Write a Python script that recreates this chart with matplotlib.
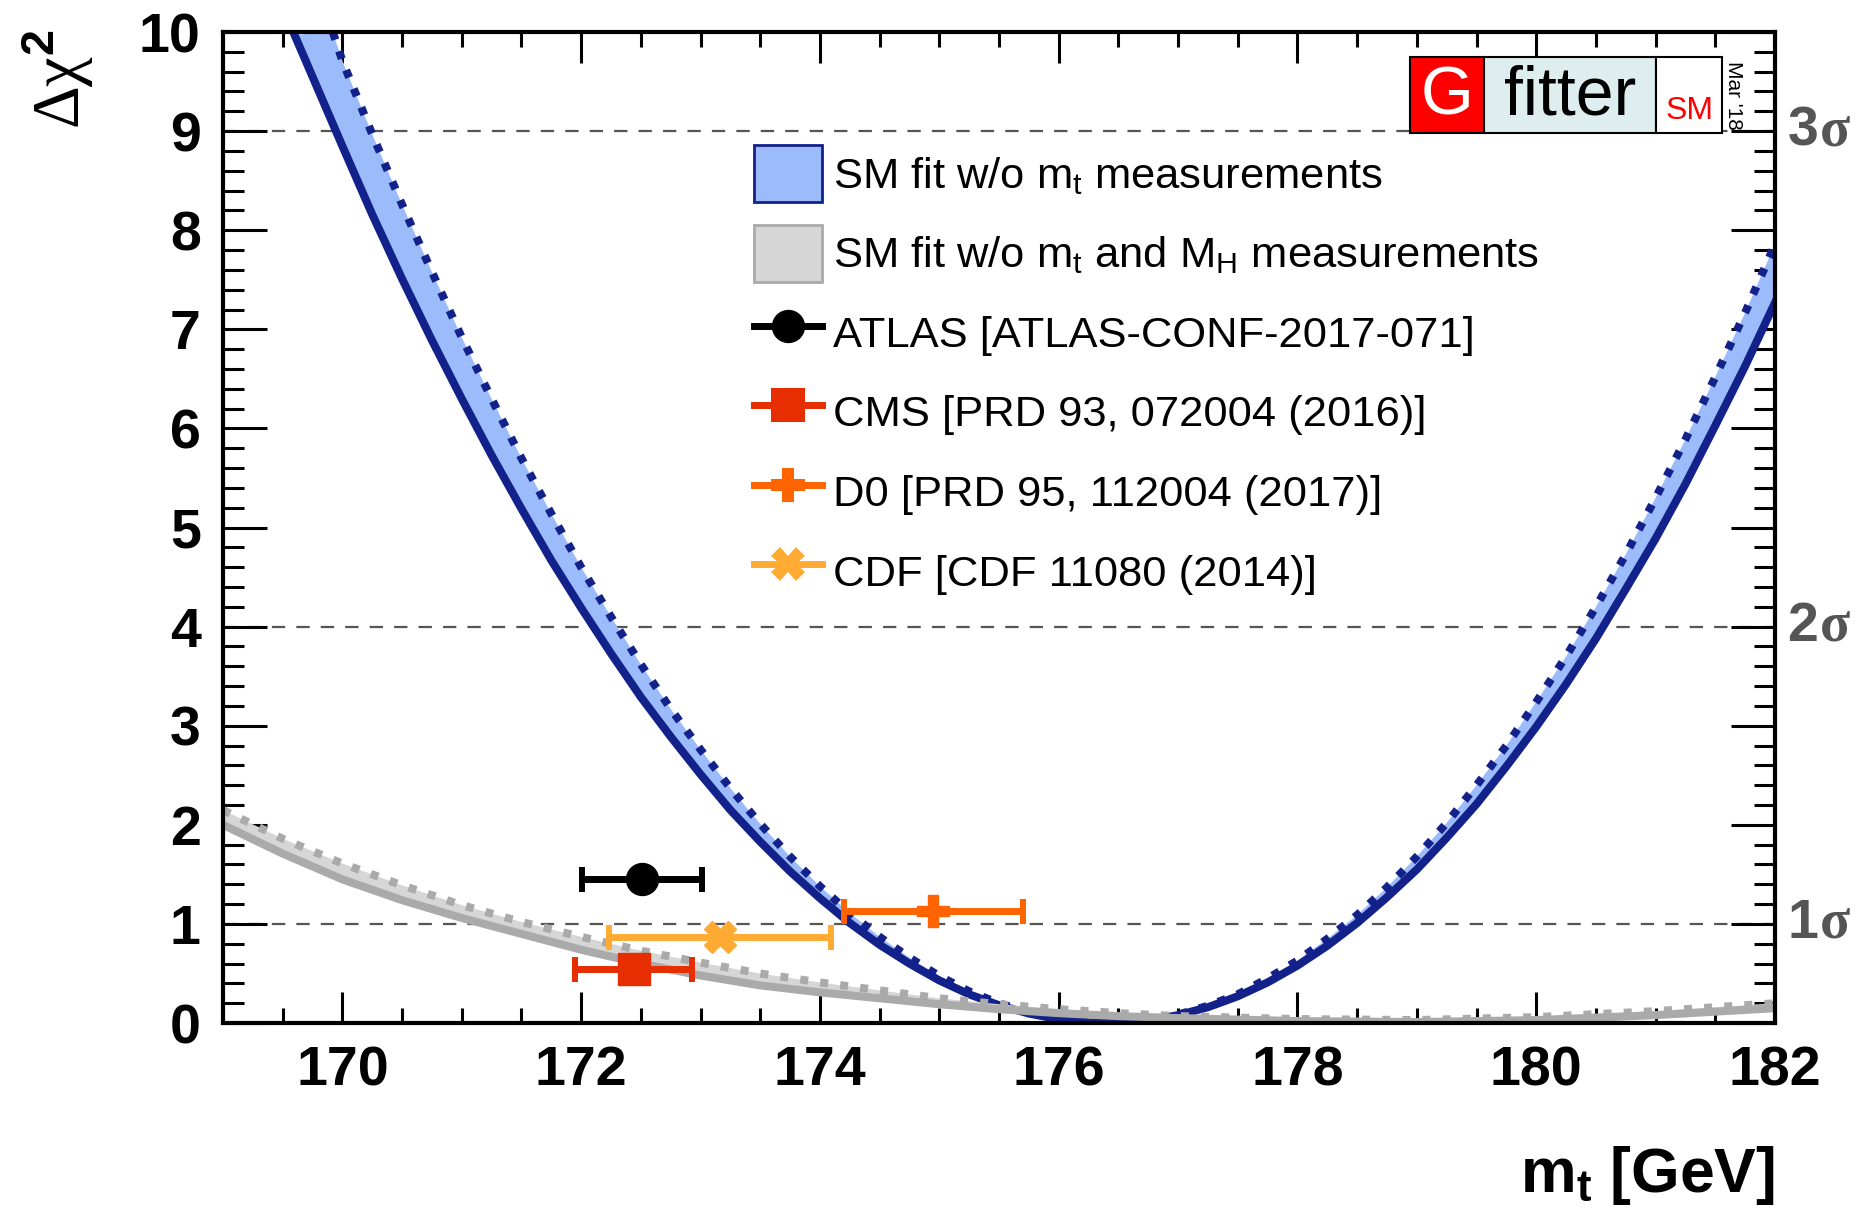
import numpy as np
import matplotlib
matplotlib.use('Agg')
import matplotlib.pyplot as plt
from matplotlib.patches import Patch, Rectangle
from matplotlib.lines import Line2D
from matplotlib.ticker import MultipleLocator

plt.rcParams['font.family'] = ['Liberation Sans', 'DejaVu Sans']
plt.rcParams['mathtext.fontset'] = 'custom'
plt.rcParams['mathtext.rm'] = 'Liberation Sans'
plt.rcParams['mathtext.it'] = 'Liberation Sans:italic'
plt.rcParams['mathtext.bf'] = 'Liberation Sans:bold'

# SM fit w/o mt : solid (lower) and dotted (upper) curves
blue_x = [169.6, 170.0, 170.25, 170.5, 170.75, 171.0, 171.25, 171.5, 171.75, 172.0, 172.25,
          172.5, 172.75, 173.0, 173.25, 173.5, 173.75, 174.0, 174.25, 174.5, 174.75,
          175.0, 175.25, 175.5, 175.75, 176.0, 176.25, 176.42, 176.75, 177.0, 177.25,
          177.5, 177.75, 178.0, 178.25, 178.5, 178.75, 179.0, 179.25, 179.5, 179.75,
          180.0, 180.25, 180.5, 180.75, 181.0, 181.25, 181.5, 181.75, 182.0]
blue_solid = [9.97, 8.85, 8.16, 7.51, 6.89, 6.30, 5.73, 5.19, 4.67, 4.19, 3.73,
              3.29, 2.89, 2.51, 2.15, 1.83, 1.53, 1.26, 1.01, 0.79, 0.60,
              0.43, 0.29, 0.18, 0.096, 0.038, 0.006, 0.0, 0.025, 0.08, 0.16,
              0.27, 0.41, 0.58, 0.78, 1.01, 1.27, 1.55, 1.87, 2.21, 2.59,
              2.99, 3.42, 3.88, 4.38, 4.89, 5.44, 6.03, 6.63, 7.27]
blue_dx = [169.92, 170.0, 170.25, 170.5, 170.75, 171.0, 171.25, 171.5, 171.75, 172.0, 172.25,
           172.5, 172.75, 173.0, 173.25, 173.5, 173.75, 174.0, 174.25, 174.5, 174.75,
           175.0, 175.25, 175.5, 175.75, 176.0, 176.25, 176.42, 176.75, 177.0, 177.25,
           177.5, 177.75, 178.0, 178.25, 178.5, 178.75, 179.0, 179.25, 179.5, 179.75,
           180.0, 180.25, 180.5, 180.75, 181.0, 181.25, 181.5, 181.75, 182.0]
blue_dotted = [10.0, 9.71, 8.97, 8.26, 7.58, 6.92, 6.30, 5.70, 5.14, 4.60, 4.10,
               3.62, 3.17, 2.76, 2.37, 2.01, 1.68, 1.38, 1.11, 0.87, 0.66,
               0.475, 0.32, 0.20, 0.106, 0.04, 0.007, 0.0, 0.028, 0.085, 0.174,
               0.29, 0.45, 0.63, 0.85, 1.09, 1.37, 1.68, 2.02, 2.40, 2.80,
               3.24, 3.70, 4.20, 4.73, 5.30, 5.89, 6.52, 7.17, 7.86]

# SM fit w/o mt and MH
gray_x = [169.0, 169.5, 170.0, 170.5, 171.0, 171.5, 172.0, 172.5, 173.0, 173.5, 174.0,
          174.5, 175.0, 175.5, 176.0, 176.5, 177.0, 178.0, 179.0, 180.0, 181.0, 182.0]
gray_solid = [2.00, 1.71, 1.45, 1.24, 1.06, 0.90, 0.74, 0.60, 0.48, 0.38, 0.31,
              0.25, 0.19, 0.14, 0.10, 0.07, 0.05, 0.02, 0.01, 0.03, 0.08, 0.15]
gray_dotted = [2.15, 1.86, 1.61, 1.39, 1.19, 1.02, 0.87, 0.73, 0.61, 0.50, 0.41,
               0.33, 0.25, 0.19, 0.14, 0.10, 0.07, 0.04, 0.03, 0.06, 0.12, 0.20]

# direct measurements (value, error, vertical position in the plot)
meas_names = ['ATLAS [ATLAS-CONF-2017-071]', 'CMS [PRD 93, 072004 (2016)]',
              'D0 [PRD 95, 112004 (2017)]', 'CDF [CDF 11080 (2014)]']
meas_val = [172.51, 172.44, 174.95, 173.16]
meas_err = [0.50, 0.49, 0.75, 0.93]
meas_ypos = [1.45, 0.55, 1.13, 0.87]
meas_col = ['black', '#e62e00', '#ff6400', '#ffaa33']
meas_mk = ['o', 's', 'P', 'X']

sig_levels = [1, 4, 9]
sig_labels = ['1', '2', '3']

navy = '#13218a'
lblue = '#9bbbfa'
dgray = '#aaaaaa'
lgray = '#d6d6d6'

fig = plt.figure(figsize=(18.72, 12.09), dpi=100)
ax = fig.add_axes([0.1191, 0.1538, 0.8291, 0.8197])

# blue band
ax.fill(np.concatenate([blue_x, blue_dx[::-1]]),
        np.concatenate([blue_solid, blue_dotted[::-1]]),
        color=lblue, lw=0, zorder=2)
ax.plot(blue_x, blue_solid, color=navy, lw=5.8, zorder=3, solid_joinstyle='round')
ax.plot(blue_dx, blue_dotted, color=navy, lw=5.8, ls=(0, (1, 1.5)), zorder=3)

# gray band
ax.fill(np.concatenate([gray_x, gray_x[::-1]]),
        np.concatenate([gray_solid, gray_dotted[::-1]]),
        color=lgray, lw=0, zorder=4)
ax.plot(gray_x, gray_solid, color=dgray, lw=5.8, zorder=5, solid_joinstyle='round')
ax.plot(gray_x, gray_dotted, color=dgray, lw=5.8, ls=(0, (1, 1.5)), zorder=5)

# sigma lines
for lev in sig_levels:
    ax.axhline(lev, color='#555555', lw=1.6, ls=(0, (6, 5)), zorder=1)

# measurements
for v, e, yp, c, m in zip(meas_val, meas_err, meas_ypos, meas_col, meas_mk):
    ax.errorbar(v, yp, xerr=e, fmt=m, color=c, mec=c, mfc=c, ms=23, lw=5,
                capsize=9, capthick=4.3, zorder=8)

ax.set_xlim(169, 182)
ax.set_ylim(0, 10)
ax.xaxis.set_major_locator(MultipleLocator(2))
ax.xaxis.set_minor_locator(MultipleLocator(0.5))
ax.yaxis.set_major_locator(MultipleLocator(1))
ax.yaxis.set_minor_locator(MultipleLocator(0.2))
ax.tick_params(which='both', direction='in', top=True, right=True, width=2.2, color='black')
ax.tick_params(axis='x', which='major', length=22, pad=16)
ax.tick_params(axis='x', which='minor', length=11)
ax.tick_params(axis='y', which='major', length=32, pad=16)
ax.tick_params(axis='y', which='minor', length=15)
for lab in ax.get_xticklabels() + ax.get_yticklabels():
    lab.set_fontsize(40)
    lab.set_fontweight('bold')
for sp in ax.spines.values():
    sp.set_linewidth(3)
    sp.set_zorder(10)

ax.text(1.0, -0.154, r'm$_{\mathbf{t}}$ [GeV]', transform=ax.transAxes, ha='right',
        va='center', fontsize=45, fontweight='bold')
fig.text(0.031, 0.975, r'Δχ$^{\mathbf{2}}$', rotation=90, ha='center', va='top',
         fontsize=48, family='Liberation Serif')

# sigma labels on the right
trans = ax.get_yaxis_transform()
for lab, lev in zip(sig_labels, sig_levels):
    t = ax.text(1.008, lev, lab, transform=trans, ha='left', va='center', fontsize=40,
                fontweight='bold', color='#555555')
    ax.annotate('σ', xy=(1, 0), xycoords=t, xytext=(1, 0), textcoords='offset points',
                ha='left', va='bottom', fontsize=40, family='Liberation Serif',
                fontweight='bold', color='#555555')

# legend
handles = [Patch(facecolor=lblue, edgecolor=navy, lw=2),
           Patch(facecolor=lgray, edgecolor=dgray, lw=2)]
for c, m in zip(meas_col, meas_mk):
    handles.append(Line2D([], [], color=c, lw=5, marker=m, ms=24, mew=0))
labels = [r'SM fit w/o m$_\mathrm{t}$ measurements',
          r'SM fit w/o m$_\mathrm{t}$ and M$_\mathrm{H}$ measurements'] + meas_names
ax.legend(handles, labels, loc='upper left', bbox_to_anchor=(0.342, 0.886), frameon=False,
          prop={'family': 'Liberation Sans', 'size': 31.3}, handlelength=1.56,
          handleheight=1.64, handletextpad=0.27, labelspacing=0.52, borderpad=0,
          borderaxespad=0)

# Gfitter logo
y0, y1 = 0.898, 0.975
boxes = [(0.7648, 0.8125, '#ff0000'), (0.8125, 0.9233, '#deeded'), (0.9233, 0.9659, 'white')]
for xa, xb, c in boxes:
    ax.add_patch(Rectangle((xa, y0), xb - xa, y1 - y0, transform=ax.transAxes,
                           facecolor=c, edgecolor='black', lw=1.5, clip_on=False, zorder=12))
ax.text(0.7887, 0.935, 'G', transform=ax.transAxes, ha='center', va='center',
        fontsize=49, color='white', zorder=13)
ax.text(0.8679, 0.935, 'fitter', transform=ax.transAxes, ha='center', va='center',
        fontsize=49, color='black', zorder=13)
ax.text(0.9446, 0.905, 'SM', transform=ax.transAxes, ha='center', va='bottom',
        fontsize=23, color='red', zorder=13)
ax.text(0.9735, 0.936, "Mar '18", transform=ax.transAxes, ha='center', va='center',
        rotation=-90, fontsize=15, color='black', zorder=13)

fig.savefig('out.png', dpi=100, facecolor='white')
